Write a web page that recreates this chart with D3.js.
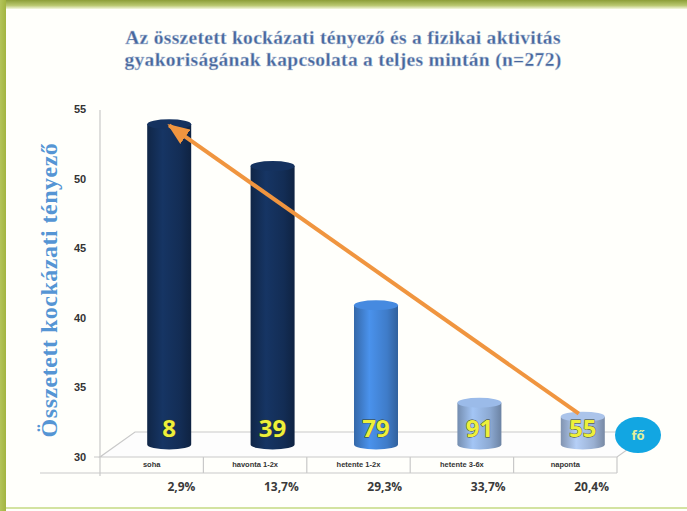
<!DOCTYPE html>
<html>
<head>
<meta charset="utf-8">
<script src="https://cdn.jsdelivr.net/npm/d3@7"></script>
<style>
  html, body { margin: 0; padding: 0; background: #fff; }
  svg { display: block; }
</style>
</head>
<body>
<svg id="chart" width="687" height="511"></svg>
<script>
// Activity frequency categories and the mean composite risk factor per group
const categories = ["soha", "havonta 1-2x", "hetente 1-2x", "hetente 3-6x", "naponta"];
const riskValues = [53, 50, 40, 33, 32];
const counts = [8, 39, 79, 91, 55];
const percents = ["2,9%", "13,7%", "29,3%", "33,7%", "20,4%"];
const yTicks = [30, 35, 40, 45, 50, 55];
const barColors = ["#132d55", "#132d55", "#3f7cc9", "#8ba8d1", "#9ab0d2"];

const titleLines = [
  "Az összetett kockázati tényező és a fizikai aktivitás",
  "gyakoriságának kapcsolata a teljes mintán (n=272)"
];
const yTitle = "Összetett kockázati tényező";
const unitLabel = "fő";

const svg = d3.select("#chart");
const W = 687, H = 511;

// plot geometry (front plane of the 3-D floor)
const x0 = 100, x1 = 617;
const depth = { dx: 35, dy: -25 };
const half = { dx: depth.dx / 2, dy: depth.dy / 2 };

const x = d3.scaleBand().domain(categories).range([x0, x1]).padding(0);
const y = d3.scaleLinear().domain([30, 55]).range([457, 109]);

const defs = svg.append("defs");

// frame
const frameGrad = defs.append("linearGradient").attr("id", "frameTop")
  .attr("x1", 0).attr("y1", 0).attr("x2", 0).attr("y2", 1);
frameGrad.append("stop").attr("offset", "0%").attr("stop-color", "#8c9e38");
frameGrad.append("stop").attr("offset", "60%").attr("stop-color", "#b9c770");
frameGrad.append("stop").attr("offset", "100%").attr("stop-color", "#f4f7e0");
const frameLeft = defs.append("linearGradient").attr("id", "frameLeft")
  .attr("x1", 0).attr("y1", 0).attr("x2", 1).attr("y2", 0);
frameLeft.append("stop").attr("offset", "0%").attr("stop-color", "#b3c45a");
frameLeft.append("stop").attr("offset", "100%").attr("stop-color", "#a2b440");

svg.append("rect").attr("x", 0).attr("y", 0).attr("width", W).attr("height", H).attr("fill", "#fffffb");
svg.append("rect").attr("x", 0).attr("y", 0).attr("width", W).attr("height", 9).attr("fill", "url(#frameTop)");
svg.append("rect").attr("x", 0).attr("y", 0).attr("width", 6).attr("height", H).attr("fill", "url(#frameLeft)");
svg.append("rect").attr("x", 6).attr("y", 507).attr("width", W - 6).attr("height", 2).attr("fill", "#d3e3a0");

// title
svg.append("g").selectAll("text").data(titleLines).join("text")
  .attr("x", 343).attr("y", (d, i) => 44 + i * 22)
  .attr("text-anchor", "middle")
  .attr("font-family", "Liberation Serif, serif")
  .attr("font-weight", "bold")
  .attr("font-size", 19.5)
  .attr("letter-spacing", 0.3)
  .attr("fill", "#47679c")
  .attr("stroke", "#c2cfe0").attr("stroke-width", 0.4)
  .text(d => d);

// y-axis title
svg.append("text")
  .attr("transform", "translate(57,290) rotate(-90)")
  .attr("text-anchor", "middle")
  .attr("font-family", "Liberation Serif, serif")
  .attr("font-weight", "bold")
  .attr("font-size", 24)
  .attr("letter-spacing", 0.5)
  .attr("fill", "#5595d4")
  .text(yTitle);

// y tick labels
svg.append("g").selectAll("text").data(yTicks).join("text")
  .attr("x", 80).attr("y", d => y(d) + 4)
  .attr("text-anchor", "middle")
  .attr("font-family", "Liberation Sans, Arial, sans-serif")
  .attr("font-weight", "bold")
  .attr("font-size", 11)
  .attr("fill", "#333")
  .text(d => d);

// vertical axis line
const gridStroke = "#c9c9c9";
svg.append("line").attr("x1", x0).attr("x2", x0).attr("y1", y(55) + 1).attr("y2", 476)
  .attr("stroke", gridStroke).attr("stroke-width", 1.2);

// 3-D floor
const fl = [
  [x0, y(30)], [x1, y(30)], [x1 + depth.dx, y(30) + depth.dy], [x0 + depth.dx, y(30) + depth.dy]
];
svg.append("path").attr("d", d3.line()(fl) + "Z")
  .attr("fill", "#fdfdfd").attr("stroke", gridStroke).attr("stroke-width", 1.2);
svg.append("line").attr("x1", x0 - 6).attr("x2", x0).attr("y1", y(30)).attr("y2", y(30))
  .attr("stroke", gridStroke);

// category table under the floor
svg.append("line").attr("x1", 40).attr("x2", x1).attr("y1", 473).attr("y2", 473)
  .attr("stroke", gridStroke).attr("stroke-width", 1.2);
svg.append("g").selectAll("line").data(categories).join("line")
  .attr("x1", d => x(d) + x.bandwidth())
  .attr("x2", d => x(d) + x.bandwidth())
  .attr("y1", y(30)).attr("y2", 473)
  .attr("stroke", gridStroke).attr("stroke-width", 1.2);
svg.append("g").selectAll("text").data(categories).join("text")
  .attr("x", d => x(d) + x.bandwidth() / 2).attr("y", 467)
  .attr("text-anchor", "middle")
  .attr("font-family", "Liberation Sans, Arial, sans-serif")
  .attr("font-weight", "bold")
  .attr("font-size", 7.5)
  .attr("fill", "#333")
  .text(d => d);
svg.append("g").selectAll("text").data(percents).join("text")
  .attr("x", (d, i) => x(categories[i]) + x.bandwidth() - 8).attr("y", 491)
  .attr("text-anchor", "end")
  .attr("font-family", "Open Sans, Liberation Sans, sans-serif")
  .attr("font-weight", "bold")
  .attr("font-size", 12)
  .attr("fill", "#3a3a3a")
  .text(d => d);

// cylinders
const barW = 44, ry = 5;
const baseY = y(30) + half.dy;
barColors.forEach((c, i) => {
  const g = defs.append("linearGradient").attr("id", "cyl" + i)
    .attr("x1", 0).attr("y1", 0).attr("x2", 1).attr("y2", 0);
  const col = d3.color(c);
  g.append("stop").attr("offset", "0%").attr("stop-color", col.darker(0.5));
  g.append("stop").attr("offset", "35%").attr("stop-color", col.brighter(0.45));
  g.append("stop").attr("offset", "75%").attr("stop-color", col);
  g.append("stop").attr("offset", "100%").attr("stop-color", col.darker(0.7));
});

const bars = svg.append("g").selectAll("g").data(riskValues).join("g");
bars.each(function (v, i) {
  const cx = x(categories[i]) + x.bandwidth() / 2 + half.dx;
  const top = y(v) + half.dy;
  const l = cx - barW / 2, r = cx + barW / 2;
  const g = d3.select(this);
  g.append("path")
    .attr("d", `M${l},${top} L${l},${baseY} A${barW / 2},${ry} 0 0 0 ${r},${baseY} L${r},${top} Z`)
    .attr("fill", `url(#cyl${i})`);
  g.append("ellipse")
    .attr("cx", cx).attr("cy", top).attr("rx", barW / 2).attr("ry", ry)
    .attr("fill", d3.color(barColors[i]).brighter(0.3));
});

// group sizes written on the cylinders
svg.append("g").selectAll("text").data(counts).join("text")
  .attr("x", (d, i) => x(categories[i]) + x.bandwidth() / 2 + half.dx)
  .attr("y", 437)
  .attr("text-anchor", "middle")
  .attr("font-family", "Open Sans, Liberation Sans, sans-serif")
  .attr("font-weight", "bold")
  .attr("font-size", 24)
  .attr("fill", "#eef03a")
  .attr("stroke", "#3a3f20").attr("stroke-width", 0.8)
  .attr("paint-order", "stroke")
  .text(d => d);

// unit badge
svg.append("ellipse").attr("cx", 638).attr("cy", 435).attr("rx", 23).attr("ry", 18)
  .attr("fill", "#12a6e2");
svg.append("text").attr("x", 638).attr("y", 440)
  .attr("text-anchor", "middle")
  .attr("font-family", "Open Sans, Liberation Sans, sans-serif")
  .attr("font-weight", "bold")
  .attr("font-size", 13)
  .attr("fill", "#e6f29a")
  .text(unitLabel);

// trend arrow from the daily group to the never group
defs.append("marker").attr("id", "arrowHead")
  .attr("markerUnits", "userSpaceOnUse")
  .attr("viewBox", "0 0 20 16").attr("refX", 18).attr("refY", 8)
  .attr("markerWidth", 22).attr("markerHeight", 18)
  .attr("orient", "auto")
  .append("path").attr("d", "M0,0 L20,8 L0,16 Z").attr("fill", "#f0953f");

const last = riskValues.length - 1;
const ax1 = x(categories[last]) + x.bandwidth() / 2 + half.dx - 4;
const ay1 = y(riskValues[last]) + half.dy - 3;
const ax2 = x(categories[0]) + x.bandwidth() / 2 + half.dx;
const ay2 = y(riskValues[0]) + half.dy + 1;
svg.append("line")
  .attr("x1", ax1).attr("y1", ay1).attr("x2", ax2).attr("y2", ay2)
  .attr("stroke", "#f0953f").attr("stroke-width", 4)
  .attr("marker-end", "url(#arrowHead)");
</script>
</body>
</html>
